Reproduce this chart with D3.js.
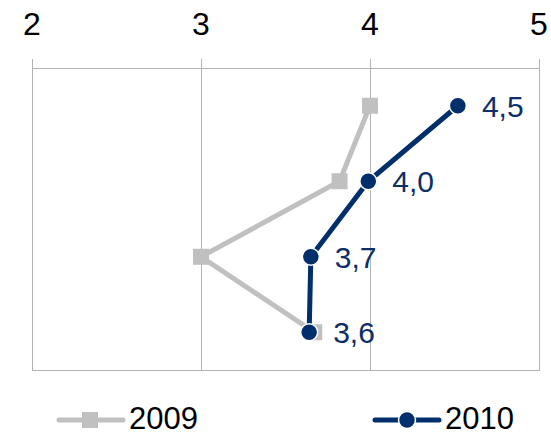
<!DOCTYPE html>
<html><head><meta charset="utf-8">
<script src="https://cdn.jsdelivr.net/npm/d3@7"></script>
<style>body{margin:0;background:#fff}svg{display:block}</style>
</head><body>
<svg id="c" width="551" height="435"></svg>
<script>
const categories = ["A","B","C","D"];
const values2009 = [4.0, 3.82, 3.0, 3.67];
const values2010 = [4.52, 3.99, 3.65, 3.64];
const labels2010 = ["4,5","4,0","3,7","3,6"];
const xTicks = [2,3,4,5];
const seriesNames = ["2009","2010"];
const colors = ["#c0c0c0","#002f6c"];

(function(){
const svg = d3.select("#c");
const pl=32, pr=539, pt=68, pb=370;
const x = d3.scaleLinear().domain([2,5]).range([pl,pr]);
const y = d3.scaleBand().domain(categories).range([pt,pb]);
const font = "Liberation Sans, Arial, sans-serif";

svg.append("g").selectAll("line").data(xTicks).join("line")
  .attr("x1",d=>x(d)+0.5).attr("x2",d=>x(d)+0.5).attr("y1",59).attr("y2",pb)
  .attr("stroke","#b3b3b3").attr("stroke-width",1);
svg.append("line").attr("x1",pl).attr("x2",pr+1).attr("y1",pt+0.5).attr("y2",pt+0.5).attr("stroke","#b3b3b3");
svg.append("line").attr("x1",pl).attr("x2",pr+1).attr("y1",pb+0.5).attr("y2",pb+0.5).attr("stroke","#b3b3b3");
svg.append("g").selectAll("text").data(xTicks).join("text")
  .attr("x",d=>x(d)).attr("y",35).attr("text-anchor","middle")
  .attr("font-family",font).attr("font-size",32).attr("fill","#000").text(d=>d);

const cy = d => y(d)+y.bandwidth()/2;
const line = d3.line().x(d=>x(d.v)).y(d=>cy(d.c));
const d09 = categories.map((c,i)=>({c,v:values2009[i]}));
const d10 = categories.map((c,i)=>({c,v:values2010[i]}));

svg.append("path").datum(d09).attr("d",line).attr("fill","none").attr("stroke",colors[0]).attr("stroke-width",5);
svg.append("g").selectAll("rect").data(d09).join("rect")
  .attr("x",d=>x(d.v)-8).attr("y",d=>cy(d.c)-8).attr("width",16).attr("height",16).attr("fill",colors[0]);

svg.append("path").datum(d10).attr("d",line).attr("fill","none").attr("stroke",colors[1]).attr("stroke-width",5);
svg.append("g").selectAll("circle").data(d10).join("circle")
  .attr("cx",d=>x(d.v)).attr("cy",d=>cy(d.c)).attr("r",8.5).attr("fill",colors[1]).attr("stroke","#fff").attr("stroke-width",1.5);
svg.append("g").selectAll("text").data(d10).join("text")
  .attr("x",d=>x(d.v)+24).attr("y",d=>cy(d.c)+11).attr("font-family",font).attr("font-size",30)
  .attr("fill","#0d2e66").text((d,i)=>labels2010[i]);

const leg = [{x:59, name:seriesNames[0], col:colors[0], sq:true},{x:375, name:seriesNames[1], col:colors[1], sq:false}];
leg.forEach(l=>{
  const g = svg.append("g");
  g.append("line").attr("x1",l.x).attr("x2",l.x+64).attr("y1",420).attr("y2",420).attr("stroke",l.col).attr("stroke-width",5).attr("stroke-linecap","round");
  if(l.sq) g.append("rect").attr("x",l.x+23).attr("y",412).attr("width",16).attr("height",16).attr("fill",l.col);
  else g.append("circle").attr("cx",l.x+32).attr("cy",420).attr("r",8.5).attr("fill",l.col).attr("stroke","#fff").attr("stroke-width",1.5);
  g.append("text").attr("x",l.x+70).attr("y",429).attr("font-family",font).attr("font-size",31).attr("fill","#000").text(l.name);
});
})();
</script>
</body></html>
